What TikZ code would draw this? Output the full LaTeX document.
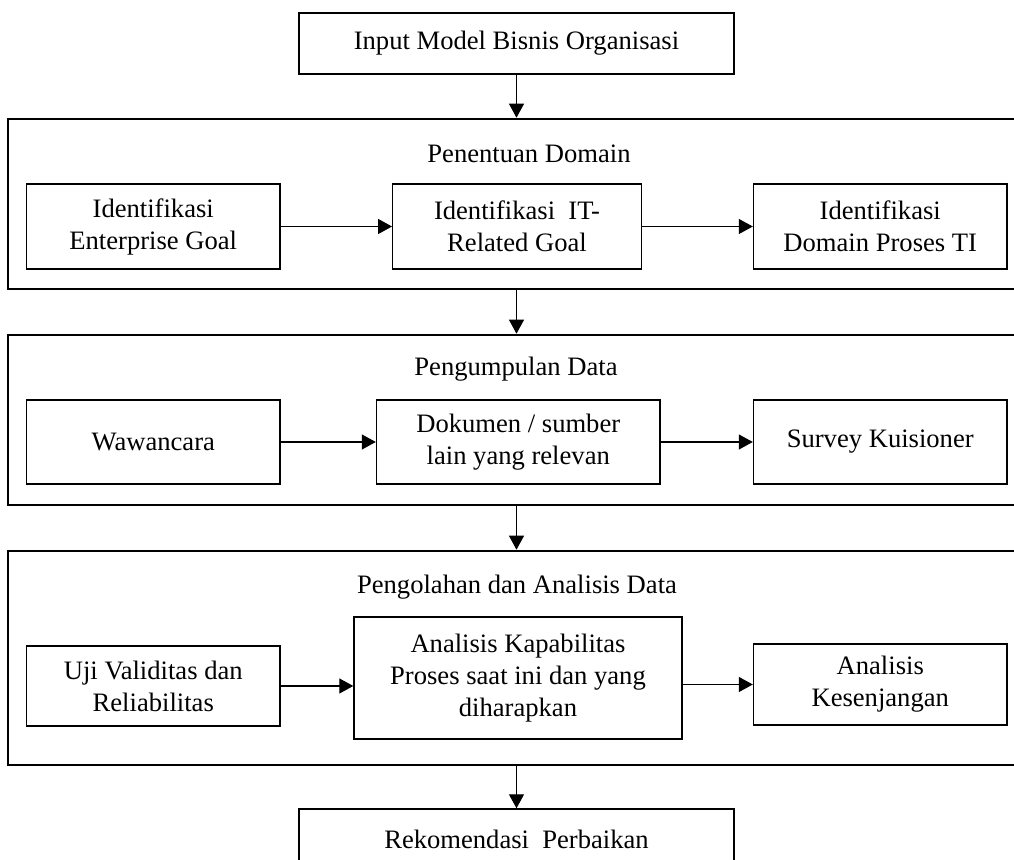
\documentclass[tikz,border=0pt]{standalone}
\usepackage{fontspec}
\setmainfont{Liberation Serif}
\usetikzlibrary{arrows.meta}
\tikzset{
  box/.style={draw, line width=0.7pt, align=center, inner sep=2pt,
    font=\fontsize{13.3}{16}\selectfont},
  panel/.style={draw, line width=1.3pt, inner sep=0pt},
  title/.style={font=\fontsize{13.3}{16}\selectfont},
  >={Triangle[length=7pt,width=7.5pt]}
}

\begin{document}
\begin{tikzpicture}[x=0.5pt,y=-0.5pt,line width=0.6pt]
        \useasboundingbox (0,0) rectangle (1014,860);
        \clip (0,0) rectangle (1014,860);
        % top and bottom
        \node[box, minimum width=217.5pt, minimum height=30.5pt] (input) at (516.5,43.5) {Input Model Bisnis Organisasi};
        \node[box, minimum width=217.5pt, minimum height=30.5pt] (rekom) at (516.5,839.5) {Rekomendasi~ Perbaikan};
        % panels
        \node[panel, minimum width=511pt, minimum height=85pt] (p1) at (519,204) {};
        \node[panel, minimum width=511pt, minimum height=85pt] (p2) at (519,420) {};
        \node[panel, minimum width=511pt, minimum height=107pt] (p3) at (519,658) {};
        \node[title] (t1) at (529,154) {Penentuan Domain};
        \node[title] (t2) at (516,369) {Pengumpulan Data};
        \node[title] (t3) at (517,587) {Pengolahan dan Analisis Data};
        % penentuan domain
        \node[box, minimum width=126.75pt, minimum height=42.5pt] (eg) at (153.25,226.5) {Identifikasi\\Enterprise Goal};
        \node[box, minimum width=124.25pt, minimum height=42.5pt] (itg) at (517,226.5) {Identifikasi~ IT-\\Related Goal};
        \node[box, minimum width=126.75pt, minimum height=42.5pt] (dom) at (880.25,226.5) {Identifikasi\\Domain Proses TI};
        % pengumpulan data
        \node[box, minimum width=126.75pt, minimum height=42pt] (waw) at (153.25,442) {Wawancara};
        \node[box, minimum width=141.75pt, minimum height=42pt] (dok) at (518.25,442) {Dokumen / sumber\\lain yang relevan};
        \node[box, minimum width=126.75pt, minimum height=42pt] (surv) at (880.25,442) {Survey Kuisioner};
        % pengolahan
        \node[box, minimum width=126.75pt, minimum height=40pt] (uji) at (153.25,686) {Uji Validitas dan\\Reliabilitas};
        \node[box, minimum width=164pt, minimum height=61pt] (kap) at (518,678) {Analisis Kapabilitas\\Proses saat ini dan yang\\diharapkan};
        \node[box, minimum width=126.75pt, minimum height=40.5pt] (gap) at (880.25,684.5) {Analisis\\Kesenjangan};
        % arrows
        \path[draw,->] (input.south) -- (input.south |- p1.north);
        \path[draw,->] (p1.south -| input.south) -- (input.south |- p2.north);
        \path[draw,->] (p2.south -| input.south) -- (input.south |- p3.north);
        \path[draw,->] (p3.south -| input.south) -- (rekom.north);
        \path[draw,->] (eg) edge (itg);
        \path[draw,->] (itg) edge (dom);
        \path[draw,->] (waw) edge (dok);
        \path[draw,->] (dok) edge (surv);
        \path[draw,->] (uji.east) -- (uji.east -| kap.west);
        \path[draw,->] (kap.east |- gap.west) -- (gap.west);
\end{tikzpicture}
\end{document}
